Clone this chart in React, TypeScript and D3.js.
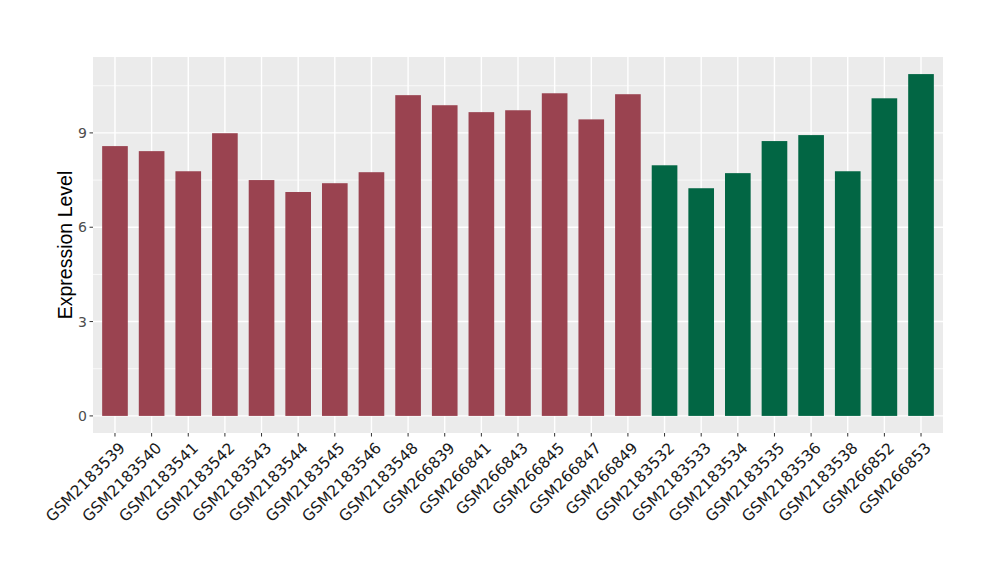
import React from "react";
import * as d3 from "d3";

const samples = [
  "GSM2183539", "GSM2183540", "GSM2183541", "GSM2183542", "GSM2183543", "GSM2183544",
  "GSM2183545", "GSM2183546", "GSM2183548", "GSM266839", "GSM266841", "GSM266843",
  "GSM266845", "GSM266847", "GSM266849", "GSM2183532", "GSM2183533", "GSM2183534",
  "GSM2183535", "GSM2183536", "GSM2183538", "GSM266852", "GSM266853",
];
const values = [
  8.58, 8.42, 7.78, 8.99, 7.50, 7.12, 7.40, 7.75, 10.20, 9.88, 9.66, 9.72,
  10.26, 9.43, 10.23, 7.97, 7.24, 7.72, 8.74, 8.93, 7.78, 10.10, 10.87,
];
const groups = [
  "A", "A", "A", "A", "A", "A", "A", "A", "A", "A", "A", "A", "A", "A", "A",
  "B", "B", "B", "B", "B", "B", "B", "B",
];
const groupColors: Record<string, string> = { A: "#9A4350", B: "#026644" };
const yTicks = [0, 3, 6, 9];
const yMinor = [1.5, 4.5, 7.5, 10.5];

const W = 1000, H = 580;
const P = { left: 93, right: 943, top: 57, bottom: 433 };
const FONT = "'Liberation Sans', Arial, Helvetica, sans-serif";
const TICKFONT = "'DejaVu Sans', sans-serif";

export default function App() {
  const maxV = d3.max(values) as number;
  const pad = maxV * 0.05;
  const y = d3.scaleLinear().domain([-pad, maxV + pad]).range([P.bottom, P.top]);
  const x = d3
    .scalePoint<string>()
    .domain(samples)
    .range([P.left, P.right])
    .padding(0.6);
  const step = x.step();
  const cx = (i: number) => x(samples[i]) as number;
  const bw = step * 0.7;

  return (
    <svg width={W} height={H} style={{ position: "fixed", left: 0, top: 0, background: "#fff" }}>
      <rect x={0} y={0} width={W} height={H} fill="#fff" />
      <rect x={P.left} y={P.top} width={P.right - P.left} height={P.bottom - P.top} fill="#EBEBEB" />
      {yMinor.map((t) => (
        <line key={"m" + t} x1={P.left} x2={P.right} y1={y(t)} y2={y(t)} stroke="#fff" strokeWidth={0.7} />
      ))}
      {yTicks.map((t) => (
        <line key={"g" + t} x1={P.left} x2={P.right} y1={y(t)} y2={y(t)} stroke="#fff" strokeWidth={1.4} />
      ))}
      {samples.map((s, i) => (
        <line key={"v" + s} x1={cx(i)} x2={cx(i)} y1={P.top} y2={P.bottom} stroke="#fff" strokeWidth={1.4} />
      ))}
      {values.map((v, i) => (
        <rect
          key={"b" + samples[i]}
          x={cx(i) - bw / 2}
          y={y(v)}
          width={bw}
          height={y(0) - y(v)}
          fill={groupColors[groups[i]]}
        />
      ))}
      {yTicks.map((t) => (
        <g key={"yt" + t}>
          <line x1={P.left - 3.5} x2={P.left} y1={y(t)} y2={y(t)} stroke="#333" strokeWidth={1} />
          <text x={P.left - 6} y={y(t)} dy="0.36em" textAnchor="end" fontSize={14} fill="#4D4D4D" fontFamily={TICKFONT}>
            {t}
          </text>
        </g>
      ))}
      {samples.map((s, i) => (
        <g key={"xt" + s}>
          <line x1={cx(i)} x2={cx(i)} y1={P.bottom} y2={P.bottom + 3.5} stroke="#333" strokeWidth={1} />
          <text
            transform={`translate(${cx(i) + 3},${P.bottom + 8}) rotate(-45)`}
            dy="0.72em"
            textAnchor="end"
            fontSize={15.5}
            fill="#1A1A1A"
            fontFamily={TICKFONT}
          >
            {s}
          </text>
        </g>
      ))}
      <text
        transform={`translate(72,${(P.top + P.bottom) / 2}) rotate(-90)`}
        textAnchor="middle"
        fontSize={19.5}
        fill="#000"
        fontFamily={FONT}
      >
        Expression Level
      </text>
    </svg>
  );
}
